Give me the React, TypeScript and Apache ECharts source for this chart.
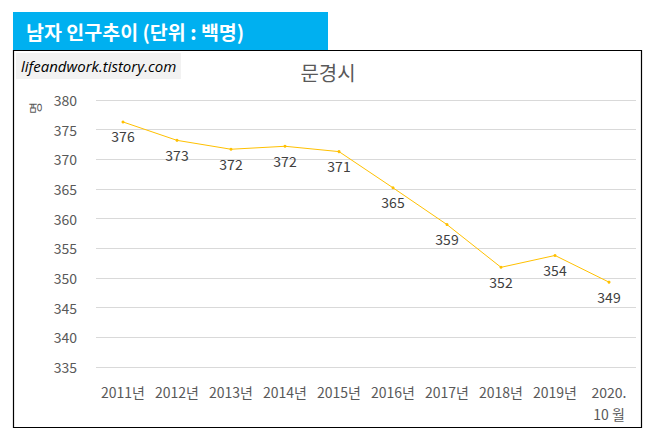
import React, { useEffect, useRef } from "react";
import * as echarts from "echarts";

const categories = ["2011년", "2012년", "2013년", "2014년", "2015년", "2016년", "2017년", "2018년", "2019년", "2020.\n10 월"];
const values = [376.3, 373.2, 371.7, 372.2, 371.3, 365.2, 359.0, 351.8, 353.8, 349.3];
const labels = ["376", "373", "372", "372", "371", "365", "359", "352", "354", "349"];
const headerText = "남자 인구추이 (단위 : 백명)";
const chartTitle = "문경시";
const watermark = "lifeandwork.tistory.com";
const yUnit = "명";

const FONT = "'Noto Sans CJK KR', 'Noto Sans', sans-serif";

export default function App() {
  const ref = useRef<HTMLDivElement>(null);
  useEffect(() => {
    document.body.style.margin = "0";
    const chart = echarts.init(ref.current!, null, { renderer: "svg" });
    chart.setOption({
      animation: false,
      backgroundColor: "#ffffff",
      textStyle: { fontFamily: FONT },
      graphic: [
        { type: "rect", shape: { x: 13, y: 12, width: 315, height: 38 }, style: { fill: "#00B0F0" } },
        { type: "text", x: 26, y: 31, style: { text: headerText, fill: "#ffffff", font: `bold 19.5px ${FONT}`, verticalAlign: "middle" } },
        { type: "rect", shape: { x: 13.5, y: 50.5, width: 628, height: 377 }, style: { fill: "none", stroke: "#000000", lineWidth: 1.2 } },
        { type: "rect", shape: { x: 16, y: 53, width: 165, height: 26 }, style: { fill: "#F2F2F2" } },
        { type: "text", x: 21, y: 66, style: { text: watermark, fill: "#000000", font: `italic 15px 'Open Sans', sans-serif`, verticalAlign: "middle" } },
        { type: "text", x: 328, y: 72, style: { text: chartTitle, fill: "#595959", font: `20px ${FONT}`, align: "center", verticalAlign: "middle" } },
        { type: "text", x: 34, y: 108, rotation: Math.PI / 2, style: { text: yUnit, fill: "#595959", font: `13px ${FONT}`, align: "center", verticalAlign: "middle" } },
      ],
      grid: { left: 96, right: 17, top: 100, bottom: 67, containLabel: false },
      xAxis: {
        type: "category",
        data: categories,
        boundaryGap: true,
        axisLine: { show: false },
        axisTick: { show: false },
        axisLabel: { color: "#595959", fontSize: 14, margin: 14, lineHeight: 22, fontFamily: FONT, interval: 0 },
      },
      yAxis: {
        type: "value",
        min: 335,
        max: 380,
        interval: 5,
        axisLine: { show: false },
        axisTick: { show: false },
        axisLabel: { color: "#595959", fontSize: 14, margin: 19, fontFamily: FONT },
        splitLine: { lineStyle: { color: "#D9D9D9", width: 1 } },
      },
      series: [
        {
          type: "line",
          data: values,
          symbol: "circle",
          symbolSize: 3,
          itemStyle: { color: "#FFC000" },
          lineStyle: { color: "#FFC000", width: 1 },
          label: {
            show: true,
            position: "bottom",
            distance: 6,
            color: "#404040",
            fontSize: 14,
            fontFamily: FONT,
            formatter: (p: any) => labels[p.dataIndex],
          },
        },
      ],
    });
    return () => chart.dispose();
  }, []);
  return <div ref={ref} style={{ width: 653, height: 434 }} />;
}
